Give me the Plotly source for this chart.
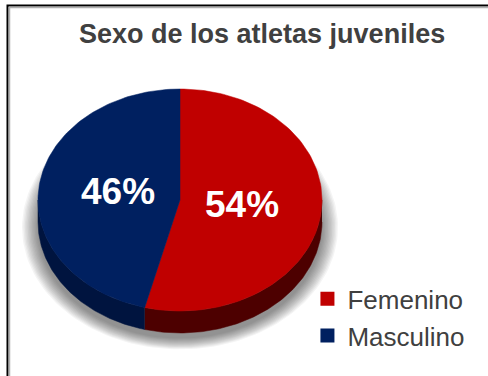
import numpy as np
import plotly.graph_objects as go

# Data
categories = ["Femenino", "Masculino"]
shares = [54, 46]
top_colors = ["#C00000", "#002060"]
side_colors = ["#4d0000", "#00143f"]
title_text = "Sexo de los atletas juveniles"

W, H = 488, 376
cx, cy = 180, 200          # centre of the top face
rx, ry = 142, 111          # ellipse radii of the tilted disc
depth = 22                 # thickness of the disc


def pt(theta_deg, dy=0.0, sx=1.0, sy=1.0):
    t = np.radians(theta_deg)
    return cx + rx * sx * np.sin(t), cy - ry * sy * np.cos(t) + dy


fig = go.Figure()

# soft drop shadow under the disc
for k in range(12):
    grow = 16 - k * 1.4
    th = np.linspace(0, 360, 181)
    t = np.radians(th)
    xs = cx + (rx + grow) * np.sin(t)
    ys = cy + 14 + depth * 0.6 - (ry + grow * 0.7) * np.cos(t)
    fig.add_trace(go.Scatter(x=xs, y=ys, fill="toself", mode="lines",
                             line=dict(width=0), fillcolor="rgba(0,0,0,0.045)",
                             hoverinfo="skip", showlegend=False))

# slice angles (clockwise from 12 o'clock)
total = sum(shares)
bounds = np.concatenate([[0], np.cumsum(shares) / total * 360])

# visible side wall (front half, 90..270 degrees)
for i in range(len(categories)):
    a0, a1 = max(bounds[i], 90), min(bounds[i + 1], 270)
    if a1 <= a0:
        continue
    arc = np.linspace(a0, a1, 120)
    tx, ty = pt(arc)
    bx, by = pt(arc[::-1], dy=depth)
    fig.add_trace(go.Scatter(x=np.r_[tx, bx], y=np.r_[ty, by], fill="toself",
                             mode="lines", line=dict(width=0.5, color=side_colors[i]),
                             fillcolor=side_colors[i], hoverinfo="skip",
                             showlegend=False))

# top face
for i in range(len(categories)):
    arc = np.linspace(bounds[i], bounds[i + 1], 120)
    ax_, ay_ = pt(arc)
    xs = np.r_[cx, ax_, cx]
    ys = np.r_[cy, ay_, cy]
    fig.add_trace(go.Scatter(x=xs, y=ys, fill="toself", mode="lines",
                             line=dict(width=0.5, color=top_colors[i]),
                             fillcolor=top_colors[i], hoverinfo="skip",
                             showlegend=False))

# percentage labels
for i in range(len(categories)):
    mid = (bounds[i] + bounds[i + 1]) / 2
    lx, ly = pt(mid, sx=0.44, sy=0.44)
    fig.add_annotation(x=lx, y=ly - 2, text="%d%%" % shares[i], showarrow=False,
                       font=dict(family="Liberation Sans", size=37, color="white",
                                 weight="bold"))

# legend entries
for i in range(len(categories)):
    fig.add_trace(go.Scatter(x=[None], y=[None], mode="markers", name=categories[i],
                             marker=dict(symbol="square", size=14, color=top_colors[i])))

fig.add_annotation(x=262, y=34, text=title_text, showarrow=False,
                   font=dict(family="Liberation Sans", size=27, color="#404040",
                             weight="bold"))

# frame
fig.add_shape(type="rect", x0=7.5, y0=5.5, x1=W + 20, y1=H + 20,
              line=dict(color="black", width=2), layer="above")
fig.add_shape(type="rect", x0=9.5, y0=7.5, x1=W + 20, y1=H + 20,
              line=dict(color="#b0b0b0", width=1.5), layer="above")

fig.update_layout(
    width=W, height=H,
    margin=dict(l=0, r=0, t=0, b=0),
    paper_bgcolor="white", plot_bgcolor="white",
    xaxis=dict(range=[0, W], visible=False, fixedrange=True),
    yaxis=dict(range=[H, 0], visible=False, fixedrange=True),
    showlegend=True,
    legend=dict(x=0.63, y=0.268, xanchor="left", yanchor="top",
                font=dict(family="Liberation Sans", size=26, color="#404040"),
                bgcolor="rgba(0,0,0,0)", tracegroupgap=0, itemwidth=30),
)

fig.write_html("out.html")
